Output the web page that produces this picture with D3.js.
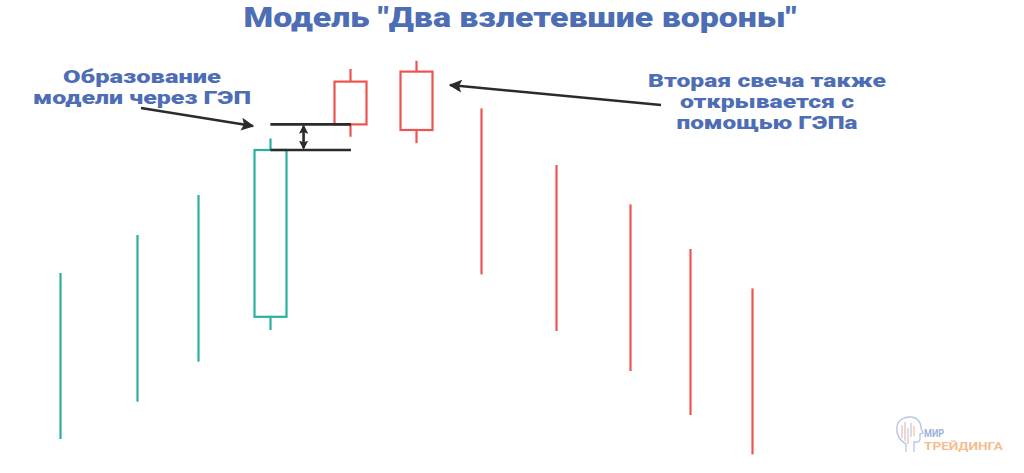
<!DOCTYPE html>
<html><head><meta charset="utf-8">
<script src="https://cdn.jsdelivr.net/npm/d3@7"></script>
<style>html,body{margin:0;padding:0;background:#fff;}svg{display:block;}</style>
</head><body>
<svg id="chart" width="1024" height="473"></svg>
<script>
// ---- data ----
const title = 'Модель "Два взлетевшие вороны"';
// bar position (time units), high/low, open/close (null = wick-only bar)
const times  = [0, 1.11, 1.99, 3.04, 4.19, 5.15, 6.08, 7.17, 8.24, 9.10, 10];
const highs  = [46.75, 56.25, 66.25, 80.4, 97.75, 99.8, 87.9, 73.75, 63.9, 52.75, 42.9];
const lows   = [5.25, 14.6, 24.6, 32.5, 80.8, 79.2, 46.4, 32.25, 22.25, 11.25, 1.4];
const opens  = [null, null, null, 35.8, 94.6, 97.1, null, null, null, null, null];
const closes = [null, null, null, 77.5, 83.9, 82.5, null, null, null, null, null];
const direction = ["up","up","up","up","down","down","down","down","down","down","down"];
// gap markers: levels spanning from green candle to first red candle
const gapLevels = [83.9, 77.5];
const gapFrom = 3.04, gapTo = 4.19, gapArrowAt = 3.52;
const leftNote  = ["Образование", "модели через ГЭП"];
const leftWidths = [158, 218];
const rightNote = ["Вторая свеча также", "открывается с", "помощью ГЭПа"];
const rightWidths = [238, 174, 181];
const logoTop = "МИР", logoBottom = "ТРЕЙДИНГА";

// ---- scales ----
const svg = d3.select("#chart");
const x = d3.scaleLinear().domain([0, 10]).range([60, 752]);
const y = d3.scaleLinear().domain([0, 100]).range([460, 60]);
const colors = {up: "#2bb0a0", down: "#ef5350"};
const blue = "#4d6db4";
const font = "Roboto, 'Open Sans', sans-serif";
const bodyW = 32;

const data = times.map((t, i) => ({t, h: highs[i], l: lows[i], o: opens[i], c: closes[i], d: direction[i]}));

// title
svg.append("text").attr("x", 520).attr("y", 27).attr("text-anchor", "middle")
  .attr("font-family", font).attr("font-weight", 900)
  .attr("font-size", 28).attr("fill", blue).attr("textLength", 553).attr("lengthAdjust", "spacingAndGlyphs")
  .text(title);

// candles
const g = svg.append("g");
data.forEach(d => {
  const cx = Math.round(x(d.t)) + 0.5;
  const col = colors[d.d];
  if (d.o === null) {
    g.append("line").attr("x1", cx).attr("x2", cx).attr("y1", y(d.h)).attr("y2", y(d.l))
      .attr("stroke", col).attr("stroke-width", 2.2);
  } else {
    const top = Math.max(d.o, d.c), bot = Math.min(d.o, d.c);
    g.append("line").attr("x1", cx).attr("x2", cx).attr("y1", y(d.h)).attr("y2", y(top))
      .attr("stroke", col).attr("stroke-width", 2.2);
    g.append("line").attr("x1", cx).attr("x2", cx).attr("y1", y(bot)).attr("y2", y(d.l))
      .attr("stroke", col).attr("stroke-width", 2.2);
    g.append("rect").attr("x", cx - bodyW / 2).attr("y", y(top))
      .attr("width", bodyW).attr("height", y(bot) - y(top))
      .attr("fill", "none").attr("stroke", col).attr("stroke-width", 2.2);
  }
});

// arrow markers
const ink = "#2b2b2b";
const defs = svg.append("defs");
defs.append("marker").attr("id", "ah").attr("viewBox", "0 0 10 10").attr("refX", 9).attr("refY", 5)
  .attr("markerWidth", 5).attr("markerHeight", 5).attr("orient", "auto-start-reverse")
  .attr("markerUnits", "strokeWidth")
  .append("path").attr("d", "M0,0 L10,5 L0,10 L2,5 Z").attr("fill", ink);
defs.append("marker").attr("id", "ah2").attr("viewBox", "0 0 10 10").attr("refX", 8).attr("refY", 5)
  .attr("markerWidth", 3.6).attr("markerHeight", 3.6).attr("orient", "auto-start-reverse")
  .attr("markerUnits", "strokeWidth")
  .append("path").attr("d", "M0,0 L10,5 L0,10 L2,5 Z").attr("fill", ink);

// gap lines
gapLevels.forEach(v => {
  svg.append("line").attr("x1", x(gapFrom)).attr("x2", x(gapTo) + 1).attr("y1", y(v)).attr("y2", y(v))
    .attr("stroke", ink).attr("stroke-width", 2.6);
});
svg.append("line").attr("x1", x(gapArrowAt)).attr("x2", x(gapArrowAt))
  .attr("y1", y(gapLevels[0]) + 2).attr("y2", y(gapLevels[1]) - 2)
  .attr("stroke", ink).attr("stroke-width", 2.6)
  .attr("marker-start", "url(#ah2)").attr("marker-end", "url(#ah2)");

// pointer arrows
svg.append("line").attr("x1", 141).attr("y1", 108).attr("x2", 253).attr("y2", 126)
  .attr("stroke", ink).attr("stroke-width", 2.6).attr("marker-end", "url(#ah)");
svg.append("line").attr("x1", 661).attr("y1", 105).attr("x2", 450).attr("y2", 85)
  .attr("stroke", ink).attr("stroke-width", 2.6).attr("marker-end", "url(#ah)");

// notes
const ln = svg.append("text").attr("font-family", font).attr("font-weight", 900)
  .attr("font-size", 18).attr("fill", blue).attr("text-anchor", "middle");
leftNote.forEach((s, i) => ln.append("tspan").attr("x", 142).attr("y", 83 + i * 21)
  .attr("textLength", leftWidths[i]).attr("lengthAdjust", "spacingAndGlyphs").text(s));
const rn = svg.append("text").attr("font-family", font).attr("font-weight", 900)
  .attr("font-size", 18).attr("fill", blue).attr("text-anchor", "middle");
rightNote.forEach((s, i) => rn.append("tspan").attr("x", 767).attr("y", 87 + i * 21)
  .attr("textLength", rightWidths[i]).attr("lengthAdjust", "spacingAndGlyphs").text(s));

// logo
const logo = svg.append("g").attr("opacity", 0.75);
logo.append("path")
  .attr("d", "M906,452 L906,444 C899,440 896,433 897,426 C898,420 904,417 910,417 C917,417 921,422 921,428 L923,433 L920,434 L920,439 C920,441 918,442 916,442 L914,442 L914,452")
  .attr("fill", "none").attr("stroke", "#9fb2e0").attr("stroke-width", 1.3);
[[902,425,438,"#f5a66a"],[905,422,441,"#9fb2e0"],[908,428,444,"#f5a66a"],[911,423,437,"#9fb2e0"],[914,426,436,"#f5a66a"]]
  .forEach(b => logo.append("line").attr("x1", b[0]).attr("x2", b[0]).attr("y1", b[1]).attr("y2", b[2])
    .attr("stroke", b[3]).attr("stroke-width", 1.2));
logo.append("text").attr("x", 924).attr("y", 437).attr("font-family", font).attr("font-weight", 700)
  .attr("font-size", 11.5).attr("fill", "#7f97d4").attr("textLength", 20).attr("lengthAdjust", "spacingAndGlyphs").text(logoTop);
logo.append("text").attr("x", 924).attr("y", 450).attr("font-family", font).attr("font-weight", 700)
  .attr("font-size", 11.5).attr("fill", "#f5a66a").attr("textLength", 79).attr("lengthAdjust", "spacingAndGlyphs").text(logoBottom);
</script>
</body></html>
